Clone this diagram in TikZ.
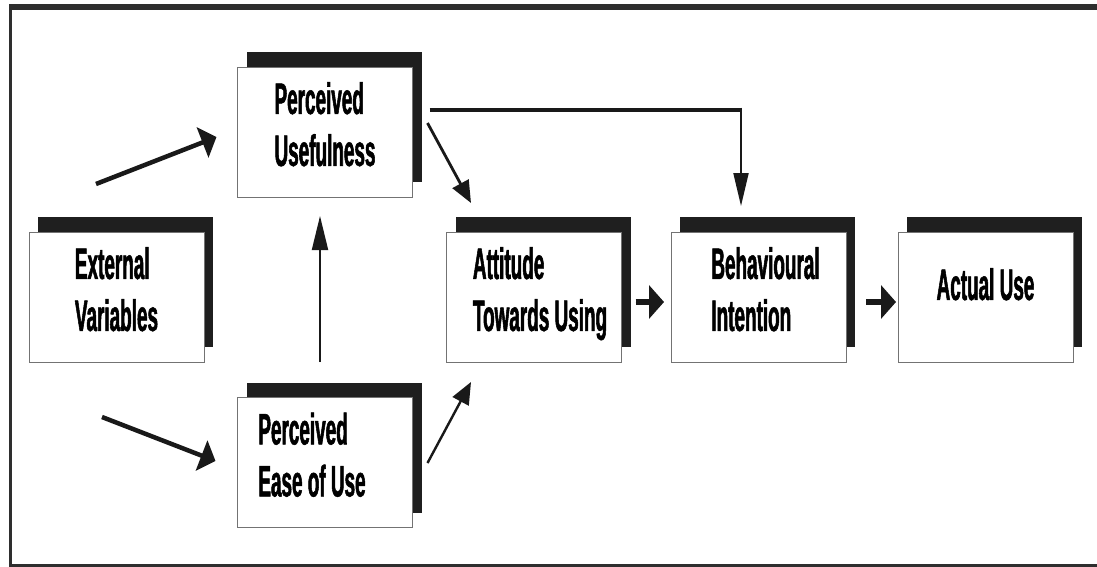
\documentclass[tikz,border=0pt]{standalone}
\usepackage{fontspec}
\setmainfont{Liberation Sans}[FakeStretch=0.43, BoldFeatures={FakeBold=1.2}]
\usepackage{tikz}
\usetikzlibrary{arrows.meta,shadows}

\begin{document}
\begin{tikzpicture}[
  x=1pt, y=-1pt,
  factor/.style={
    rectangle,
    draw=black!55,
    line width=0.8pt,
    fill=white,
    align=left,
    font=\fontsize{44}{52}\selectfont\bfseries,
    minimum width=175pt,
    minimum height=130pt,
    inner sep=0pt,
    outer sep=0pt,
    text depth=16pt,
    general shadow={fill=black!88, shadow xshift=9pt, shadow yshift=15pt}
  },
  bold/.style={-{Triangle[length=15pt,width=32pt]}, line width=4.5pt, draw=black!90, fill=black!90},
  slant/.style={-{Triangle[length=22pt,width=18pt]}, line width=2.8pt, draw=black!90, fill=black!90},
  thin/.style={-{Triangle[length=34pt,width=16pt]}, line width=2pt, draw=black!90, fill=black!90},
  stub/.style={-{Triangle[length=15pt,width=33pt]}, line width=6pt, draw=black!90, fill=black!90},
  frame/.style={draw=black!82}
]
  \useasboundingbox[fill=white] (0,0) rectangle (1097,567);

  % outer frame
  \draw[frame, line width=6pt] (9,7.5) -- (1097,7.5);
  \draw[frame, line width=3pt] (10.5,6) -- (10.5,565.5) -- (1097,565.5);

  \node[factor] (ext)       at (116.5,297) {External\\Variables};
  \node[factor] (useful)    at (325,132)   {Perceived\\Usefulness};
  \node[factor] (ease)      at (325,462.5) {Perceived\\Ease of Use\hspace*{26pt}};
  \node[factor] (attitude)  at (534,297)   {\hspace*{12pt}Attitude\\\hspace*{12pt}Towards Using};
  \node[factor] (intention) at (758.5,297) {\hspace*{14pt}Behavioural\\\hspace*{14pt}Intention};
  \node[factor, text depth=26pt] (use) at (985.5,297) {Actual Use};

  \draw[bold] ([xshift=-20.5pt,yshift=48pt]ext.north) -- ([xshift=-21pt,yshift=-5pt]useful.west);
  \draw[bold] ([xshift=-14.5pt,yshift=-55pt]ext.south) -- ([xshift=-22pt,yshift=1.5pt]ease.west);
  \draw[thin] ([xshift=-5pt,yshift=35.5pt]ease.north) -- ([xshift=-5pt,yshift=-19pt]useful.south);
  \draw[slant] ([xshift=15pt,yshift=9pt]useful.east) -- ([xshift=-63pt,yshift=29pt]attitude.north);
  \draw[slant, line width=2.4pt] ([xshift=15pt,yshift=-0.5pt]ease.east) -- ([xshift=-63pt,yshift=-20pt]attitude.south);

  \coordinate (useful-out)   at ([xshift=17pt,yshift=22pt]useful.east);
  \coordinate (intention-in) at ([xshift=-17.5pt,yshift=26pt]intention.north);
  \draw[frame, line width=4pt, draw=black!90] (useful-out) -- ([xshift=1pt]useful-out -| intention-in);
  \draw[thin, -{Triangle[length=33pt,width=15pt]}] ([yshift=2pt]useful-out -| intention-in) -- (intention-in);

  \draw[stub] ([xshift=14pt,yshift=-5pt]attitude.east) -- ([xshift=-7pt,yshift=-5pt]intention.west);
  \draw[stub] ([xshift=20pt,yshift=-5pt]intention.east) -- ([xshift=-2pt,yshift=-5pt]use.west);
\end{tikzpicture}
\end{document}
